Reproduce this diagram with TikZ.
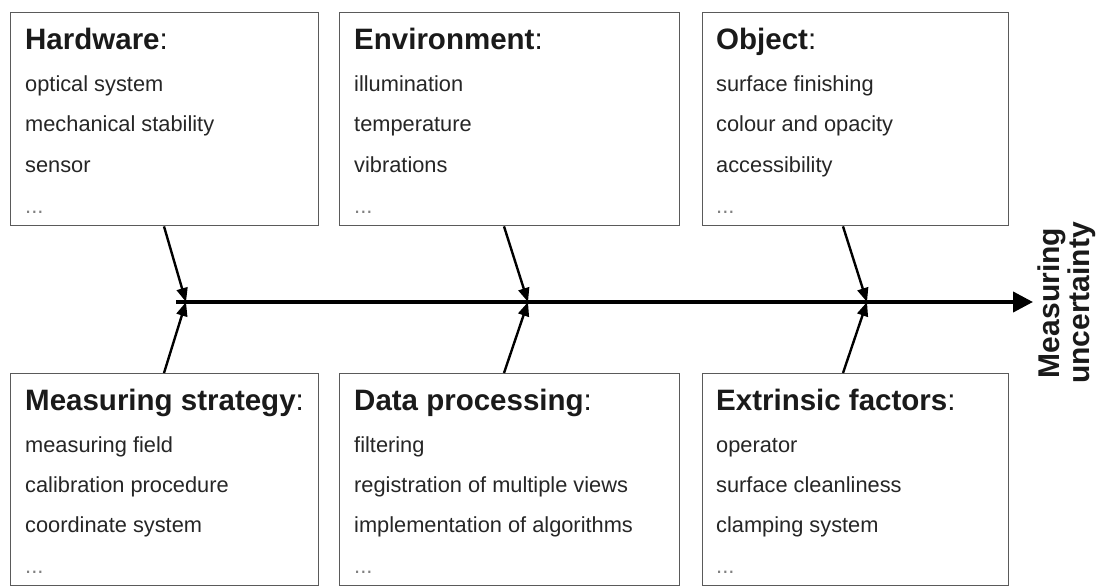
\documentclass[tikz,border=0pt]{standalone}
\usepackage{fontspec}
\setmainfont{Liberation Sans}
\usetikzlibrary{arrows.meta,calc}
\definecolor{boxline}{HTML}{5A5A5A}
\definecolor{ink}{HTML}{1A1A1A}
\definecolor{bodyink}{HTML}{262626}
\tikzset{
  factorbox/.style={draw=boxline, line width=1.4pt, fill=white, rectangle, anchor=north west, inner sep=0pt},
  titletext/.style={anchor=base west, inner sep=0pt, text=ink, font=\fontsize{29.5}{32}\selectfont},
  itemtext/.style={anchor=base west, inner sep=0pt, text=bodyink, font=\fontsize{21.8}{24}\selectfont},
  dotstext/.style={anchor=base west, inner sep=0pt, text=gray, font=\fontsize{22}{24}\selectfont},
  spine/.style={line width=4pt, -{Triangle[length=20pt,width=20pt]}},
  bone/.style={line width=2.4pt, -{Triangle[length=14pt,width=11pt]}},
  resulttext/.style={rotate=90, align=center, inner sep=0pt, text=ink, font=\fontsize{30}{30}\selectfont\bfseries}
}
\begin{document}
\begin{tikzpicture}[x=1pt,y=-1pt]
\useasboundingbox (0,0) rectangle (1102,586);
\fill[white] (0,0) rectangle (1102,586);

% boxes
\node[factorbox, minimum width=308pt, minimum height=213pt] (hw) at (10,12) {};
\node[factorbox, minimum width=340pt, minimum height=213pt] (env) at (339,12) {};
\node[factorbox, minimum width=306pt, minimum height=213pt] (obj) at (702,12) {};
\node[factorbox, minimum width=308pt, minimum height=212pt] (ms) at (10,373) {};
\node[factorbox, minimum width=340pt, minimum height=212pt] (dp) at (339,373) {};
\node[factorbox, minimum width=306pt, minimum height=212pt] (ef) at (702,373) {};

% top texts
\node[titletext] (hwt) at (25,50) {\textbf{Hardware}:};
\node[itemtext] (hw1) at (25,91) {optical system};
\node[itemtext] (hw2) at (25,131) {mechanical stability};
\node[itemtext] (hw3) at (25,172) {sensor};
\node[dotstext] (hw4) at (25,213) {...};

\node[titletext] (envt) at (354,50) {\textbf{Environment}:};
\node[itemtext] (env1) at (354,91) {illumination};
\node[itemtext] (env2) at (354,131) {temperature};
\node[itemtext] (env3) at (354,172) {vibrations};
\node[dotstext] (env4) at (354,213) {...};

\node[titletext] (objt) at (716,50) {\textbf{Object}:};
\node[itemtext] (obj1) at (716,91) {surface finishing};
\node[itemtext] (obj2) at (716,131) {colour and opacity};
\node[itemtext] (obj3) at (716,172) {accessibility};
\node[dotstext] (obj4) at (716,213) {...};

% bottom texts
\node[titletext] (mst) at (25,410) {\textbf{Measuring strategy}:};
\node[itemtext] (ms1) at (25,452) {measuring field};
\node[itemtext] (ms2) at (25,492) {calibration procedure};
\node[itemtext] (ms3) at (25,532) {coordinate system};
\node[dotstext] (ms4) at (25,573) {...};

\node[titletext] (dpt) at (354,410) {\textbf{Data processing}:};
\node[itemtext] (dp1) at (354,452) {filtering};
\node[itemtext] (dp2) at (354,492) {registration of multiple views};
\node[itemtext] (dp3) at (354,532) {implementation of algorithms};
\node[dotstext] (dp4) at (354,573) {...};

\node[titletext] (eft) at (716,410) {\textbf{Extrinsic factors}:};
\node[itemtext] (ef1) at (716,452) {operator};
\node[itemtext] (ef2) at (716,492) {surface cleanliness};
\node[itemtext] (ef3) at (716,532) {clamping system};
\node[dotstext] (ef4) at (716,573) {...};

% spine
\coordinate (s0) at (176,302);
\coordinate (j1) at (186,302);
\coordinate (j2) at (528,302);
\coordinate (j3) at (867,302);
\coordinate (tip) at (1033,302);
\node[resulttext] (res) at (1067,303) {Measuring\\uncertainty};
\draw[spine] (s0) -- (tip);

% bones
\draw[bone] ($(hw.south west)+(154,0)$) -- (j1);
\draw[bone] ($(ms.north west)+(154,0)$) -- (j1);
\draw[bone] ($(env.south west)+(165,0)$) -- (j2);
\draw[bone] ($(dp.north west)+(165,0)$) -- (j2);
\draw[bone] ($(obj.south west)+(141,0)$) -- (j3);
\draw[bone] ($(ef.north west)+(141,0)$) -- (j3);
\end{tikzpicture}
\end{document}
